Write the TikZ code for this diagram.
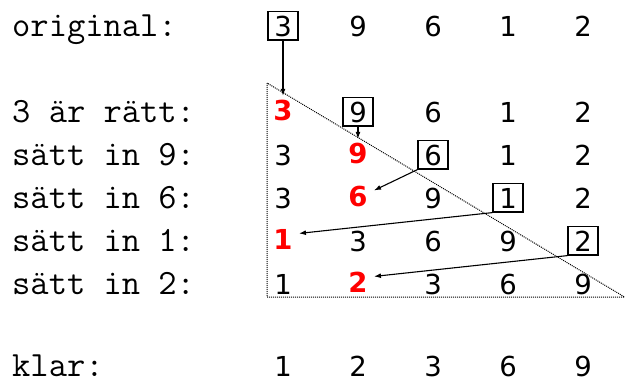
\documentclass[tikz,border=0pt]{standalone}
\usepackage{fontspec}
\setsansfont{DejaVu Sans}
\usetikzlibrary{arrows.meta}
\tikzstyle{rowlabel}=[anchor=base west, inner sep=0pt, font=\fontsize{35.5}{40}\selectfont\ttfamily]
\tikzstyle{num}=[anchor=base, font=\fontsize{27.5}{30}\selectfont\sffamily,
  text height=20.5pt, text depth=0pt, inner xsep=6.2pt, inner ysep=4pt]
\tikzstyle{boxed}=[num, draw, line width=1.2pt]
\tikzstyle{placed}=[num, text=red, font=\fontsize{27.5}{30}\selectfont\sffamily\bfseries, yshift=1.5pt]
\tikzstyle{move}=[-{Latex[length=7pt,width=5pt]}, line width=1.1pt]

\begin{document}
\begin{tikzpicture}[x=1pt,y=-1pt]
  \useasboundingbox (0,0) rectangle (625,381);
  % sorted part grows down the triangle
  \draw[densely dotted, line width=1pt] (267,83) -- (267,297) -- (624.5,297) -- cycle;

  \node[rowlabel] (lo) at (12,36)  {original:};
  \node[rowlabel] (la) at (12,122) {3 är rätt:};
  \node[rowlabel] (lb) at (12,165) {sätt in 9:};
  \node[rowlabel] (lc) at (12,208) {sätt in 6:};
  \node[rowlabel] (ld) at (12,251) {sätt in 1:};
  \node[rowlabel] (le) at (12,294) {sätt in 2:};
  \node[rowlabel] (lk) at (12,376) {klar:};

  \foreach \v/\s [count=\c] in {3/boxed,9/num,6/num,1/num,2/num}
    \node[\s] (o\c) at (208+75*\c,36) {\v};
  \foreach \v/\s [count=\c] in {3/placed,9/boxed,6/num,1/num,2/num}
    \node[\s] (a\c) at (208+75*\c,122) {\v};
  \foreach \v/\s [count=\c] in {3/num,9/placed,6/boxed,1/num,2/num}
    \node[\s] (b\c) at (208+75*\c,165) {\v};
  \foreach \v/\s [count=\c] in {3/num,6/placed,9/num,1/boxed,2/num}
    \node[\s] (c\c) at (208+75*\c,208) {\v};
  \foreach \v/\s [count=\c] in {1/placed,3/num,6/num,9/num,2/boxed}
    \node[\s] (d\c) at (208+75*\c,251) {\v};
  \foreach \v/\s [count=\c] in {1/num,2/placed,3/num,6/num,9/num}
    \node[\s] (e\c) at (208+75*\c,294) {\v};
  \foreach \v [count=\c] in {1,2,3,6,9}
    \node[num] (k\c) at (208+75*\c,376) {\v};

  % insertions
  \draw[move] (o1.south) -- (a1.north);
  \draw[move] (a2.south) -- (b2.north);
  \draw[move] (b3.south west) -- (c2.20);
  \draw[move] (c4.south west) -- (d1.20);
  \draw[move] (d5.south west) -- (e2.20);
\end{tikzpicture}
\end{document}
